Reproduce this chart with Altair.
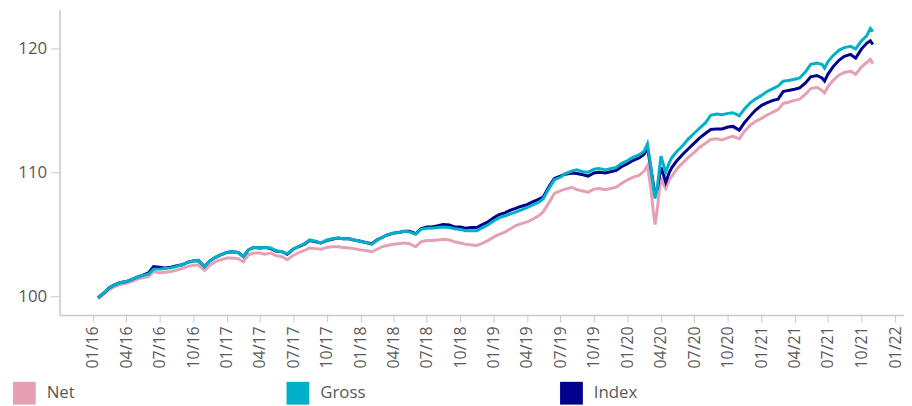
import altair as alt
import pandas as pd

series_names = ["Net", "Gross", "Index"]
series_colors = ["#E6A0B4", "#00B0C8", "#00008C"]

dates = [
    # 2016
    "2016-01-15", "2016-02-01", "2016-02-15", "2016-03-01", "2016-03-15", "2016-04-01",
    "2016-04-15", "2016-05-01", "2016-05-15", "2016-06-01", "2016-06-15", "2016-07-01",
    "2016-07-15", "2016-08-01", "2016-08-15", "2016-09-01", "2016-09-15", "2016-10-01",
    "2016-10-15", "2016-11-01", "2016-11-15", "2016-12-01", "2016-12-15",
    # 2017
    "2017-01-01", "2017-01-15", "2017-02-01", "2017-02-15", "2017-03-01", "2017-03-15",
    "2017-04-01", "2017-04-15", "2017-05-01", "2017-05-15", "2017-06-01", "2017-06-15",
    "2017-07-01", "2017-07-15", "2017-08-01", "2017-08-15", "2017-09-01", "2017-09-15",
    "2017-10-01", "2017-10-15", "2017-11-01", "2017-11-15", "2017-12-01", "2017-12-15",
    # 2018
    "2018-01-01", "2018-01-15", "2018-02-01", "2018-02-15", "2018-03-01", "2018-03-15",
    "2018-04-01", "2018-04-15", "2018-05-01", "2018-05-15", "2018-06-01", "2018-06-15",
    "2018-07-01", "2018-07-15", "2018-08-01", "2018-08-15", "2018-09-01", "2018-09-15",
    "2018-10-01", "2018-10-15", "2018-11-01", "2018-11-15", "2018-12-01", "2018-12-15",
    # 2019
    "2019-01-01", "2019-01-15", "2019-02-01", "2019-02-15", "2019-03-01", "2019-03-15",
    "2019-04-01", "2019-04-15", "2019-05-01", "2019-05-15", "2019-06-01", "2019-06-15",
    "2019-07-01", "2019-07-15", "2019-08-01", "2019-08-15", "2019-09-01", "2019-09-15",
    "2019-10-01", "2019-10-15", "2019-11-01", "2019-11-15", "2019-12-01", "2019-12-15",
    # 2020
    "2020-01-01", "2020-01-15", "2020-02-01", "2020-02-15", "2020-02-24", "2020-03-04",
    "2020-03-12", "2020-03-16", "2020-03-23", "2020-04-01", "2020-04-08", "2020-04-14",
    "2020-04-24", "2020-05-01", "2020-05-15", "2020-06-01", "2020-06-15", "2020-07-01",
    "2020-07-15", "2020-08-01", "2020-08-15", "2020-09-01", "2020-09-15", "2020-10-01",
    "2020-10-15", "2020-11-01", "2020-11-15", "2020-12-01", "2020-12-15",
    # 2021
    "2021-01-01", "2021-01-15", "2021-02-01", "2021-02-15", "2021-03-01", "2021-03-15",
    "2021-04-01", "2021-04-15", "2021-05-01", "2021-05-15", "2021-06-01", "2021-06-15",
    "2021-06-22", "2021-07-01", "2021-07-15", "2021-08-01", "2021-08-15", "2021-09-01",
    "2021-09-15", "2021-10-01", "2021-10-15", "2021-10-25", "2021-11-01",
]

net = [
    99.8, 100.2, 100.55, 100.8, 100.95, 101.05, 101.2, 101.4, 101.5, 101.6, 102.0, 101.9,
    101.95, 102.0, 102.1, 102.25, 102.4, 102.5, 102.55, 102.1, 102.5, 102.8, 102.95,
    103.1, 103.1, 103.05, 102.8, 103.35, 103.5, 103.5, 103.4, 103.5, 103.3, 103.2, 102.95,
    103.3, 103.5, 103.7, 103.9, 103.85, 103.8, 103.95, 104.0, 104.0, 103.95, 103.9, 103.85,
    103.75, 103.7, 103.6, 103.8, 104.0, 104.1, 104.2, 104.25, 104.3, 104.25, 104.0, 104.4,
    104.5, 104.5, 104.55, 104.6, 104.55, 104.4, 104.3, 104.2, 104.15, 104.1, 104.3, 104.5,
    104.8, 105.0, 105.2, 105.45, 105.7, 105.85, 106.0, 106.2, 106.45, 106.8, 107.6, 108.3,
    108.5, 108.65, 108.8, 108.6, 108.5, 108.4, 108.65, 108.7, 108.6, 108.7, 108.8, 109.1,
    109.4, 109.6, 109.75, 110.1, 110.55, 108.8, 106.6, 105.8, 107.3, 109.6, 109.0, 108.7,
    109.4, 109.7, 110.3, 110.8, 111.2, 111.6, 112.0, 112.35, 112.65, 112.7, 112.6, 112.8,
    112.9, 112.7, 113.3, 113.8, 114.1,
    114.35, 114.6, 114.85, 115.05, 115.55, 115.65, 115.8, 115.9, 116.3, 116.75, 116.85, 116.6,
    116.4, 116.9, 117.4, 117.85, 118.05, 118.15, 117.9, 118.5, 118.85, 119.1, 118.75,
]

gross = [
    99.9, 100.3, 100.7, 100.95, 101.1, 101.2, 101.35, 101.55, 101.7, 101.8, 102.2, 102.2,
    102.25, 102.3, 102.4, 102.55, 102.75, 102.85, 102.9, 102.4, 102.85, 103.15, 103.35,
    103.55, 103.6, 103.55, 103.2, 103.75, 103.95, 103.9, 103.95, 103.9, 103.7, 103.6, 103.45,
    103.8, 104.0, 104.25, 104.55, 104.45, 104.3, 104.55, 104.65, 104.7, 104.65, 104.65, 104.55,
    104.45, 104.35, 104.2, 104.5, 104.75, 104.95, 105.1, 105.15, 105.25, 105.2, 105.0, 105.4,
    105.5, 105.5, 105.55, 105.6, 105.55, 105.45, 105.4, 105.3, 105.3, 105.3, 105.55, 105.75,
    106.1, 106.35, 106.5, 106.65, 106.8, 106.95, 107.15, 107.35, 107.55, 107.85, 108.75, 109.4,
    109.6, 109.9, 110.1, 110.2, 110.05, 110.0, 110.25, 110.3, 110.2, 110.3, 110.4, 110.7,
    110.95, 111.2, 111.4, 111.7, 112.3, 110.5, 108.6, 107.9, 109.0, 111.3, 110.6, 110.0,
    110.8, 111.2, 111.7, 112.2, 112.7, 113.15, 113.55, 114.0, 114.6, 114.7, 114.65, 114.75,
    114.8, 114.55, 115.1, 115.6, 115.9,
    116.2, 116.5, 116.75, 116.95, 117.35, 117.4, 117.5, 117.6, 118.1, 118.7, 118.8, 118.7,
    118.4, 118.9, 119.4, 119.85, 120.05, 120.15, 119.95, 120.6, 121.0, 121.6, 121.35,
]

index = [
    99.9, 100.3, 100.7, 100.95, 101.1, 101.2, 101.35, 101.55, 101.7, 101.9, 102.4, 102.35,
    102.3, 102.35, 102.45, 102.55, 102.75, 102.85, 102.9, 102.4, 102.85, 103.15, 103.35,
    103.55, 103.6, 103.55, 103.2, 103.75, 103.95, 103.9, 103.95, 103.85, 103.65, 103.6, 103.4,
    103.8, 104.0, 104.2, 104.5, 104.4, 104.3, 104.5, 104.6, 104.7, 104.65, 104.65, 104.55,
    104.45, 104.35, 104.25, 104.55, 104.75, 104.95, 105.1, 105.15, 105.25, 105.25, 105.05, 105.45,
    105.6, 105.6, 105.7, 105.8, 105.75, 105.6, 105.6, 105.5, 105.55, 105.55, 105.8, 106.0,
    106.35, 106.6, 106.75, 106.95, 107.1, 107.25, 107.4, 107.6, 107.8, 108.0, 108.9, 109.5,
    109.7, 109.85, 109.95, 109.9, 109.8, 109.7, 109.95, 110.0, 109.95, 110.05, 110.15, 110.45,
    110.7, 110.95, 111.15, 111.45, 112.0, 110.4, 108.9, 108.2, 108.8, 110.4, 109.8, 109.2,
    110.0, 110.4, 110.95, 111.5, 111.9, 112.35, 112.75, 113.15, 113.45, 113.5, 113.5, 113.65,
    113.7, 113.4, 114.0, 114.55, 115.0,
    115.4, 115.6, 115.8, 115.9, 116.5, 116.6, 116.7, 116.8, 117.2, 117.7, 117.8, 117.6,
    117.35, 117.9, 118.5, 119.05, 119.35, 119.5, 119.2, 119.95, 120.4, 120.6, 120.3,
]

y_ticks = [100, 110, 120]

frames = []
for name, vals in zip(series_names, [net, gross, index]):
    frames.append(pd.DataFrame({"date": dates, "value": vals, "series": name}))
df = pd.concat(frames, ignore_index=True)

FONT = "Open Sans"

color = alt.Color(
    "series:N",
    scale=alt.Scale(domain=series_names, range=series_colors),
    legend=alt.Legend(
        title=None,
        orient="none",
        direction="horizontal",
        legendX=-47,
        legendY=375,
        symbolType="square",
        symbolSize=132,
        symbolStrokeWidth=11.5,
        symbolOpacity=1,
        labelFont=FONT,
        labelFontSize=17,
        labelColor="#595959",
        labelOffset=11,
        columnPadding=178,
        gridAlign="all",
    ),
)

x = alt.X(
    "date:T",
    scale=alt.Scale(domain=["2015-10-02", "2022-01-25"], nice=False),
    axis=alt.Axis(
        title=None,
        format="%m/%y",
        tickCount=alt.TimeIntervalStep(interval="month", step=3),
        labelAngle=-90,
        labelFont=FONT,
        labelFontSize=16,
        labelColor="#595959",
        labelOverlap=False,
        labelFlush=False,
        labelPadding=4,
        tickSize=7,
        grid=False,
        domainColor="#c8c8c8",
        tickColor="#c8c8c8",
        domainWidth=1.5,
    ),
)

y = alt.Y(
    "value:Q",
    scale=alt.Scale(domain=[98.5, 123.1], nice=False, zero=False),
    axis=alt.Axis(
        title=None,
        values=y_ticks,
        labelFont=FONT,
        labelFontSize=17,
        labelColor="#595959",
        labelPadding=4,
        tickSize=9,
        grid=False,
        domainColor="#c8c8c8",
        tickColor="#c8c8c8",
        domainWidth=1.5,
    ),
)

base = alt.Chart(df).mark_line(strokeWidth=3).encode(x=x, y=y, color=color)

layers = [base.transform_filter(alt.datum.series == s) for s in ["Net", "Index", "Gross"]]

chart = (
    alt.layer(*layers)
    .properties(
        width=852,
        height=308,
        autosize=alt.AutoSizeParams(type="none"),
        padding={"left": 52, "top": 0, "right": 0, "bottom": 90},
    )
    .configure_view(strokeWidth=0)
)

chart.save("out.html", embed_options={"renderer": "svg", "actions": False})
